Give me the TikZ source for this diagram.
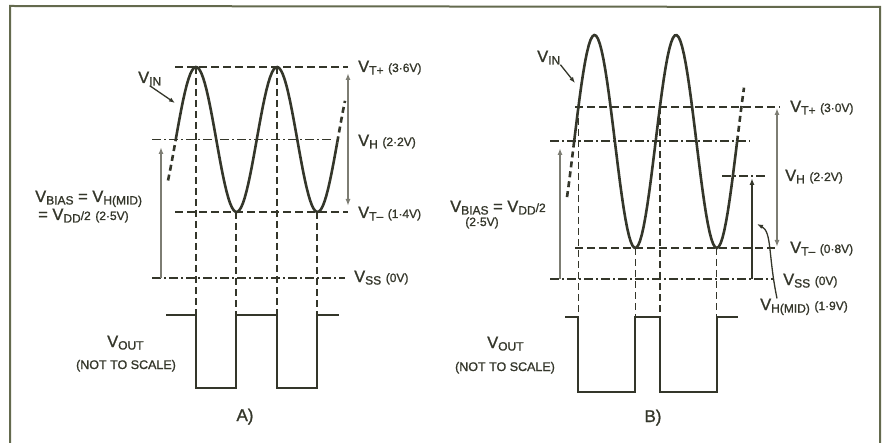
\documentclass[tikz,border=0pt]{standalone}
\usepackage{fontspec}
\setmainfont{Liberation Sans}[FakeBold=1.2]
\usetikzlibrary{arrows.meta}
\definecolor{ink}{RGB}{52,54,42}
\definecolor{frameclr}{RGB}{100,106,78}
\definecolor{dimgray}{RGB}{125,125,115}
% V with a lowered small suffix, and small values
\newcommand{\Vsub}[1]{V\raisebox{-2.5pt}{\fontsize{12}{12}\selectfont #1}}
\newcommand{\vals}[1]{{\fontsize{12}{12}\selectfont #1}}

\begin{document}
\begin{tikzpicture}[x=1pt, y=-1pt,
    wave/.style={draw=ink, line width=2.6pt},
    tail/.style={draw=ink, line width=2.6pt, dash pattern=on 6pt off 4pt},
    sq/.style={draw=ink, line width=2pt},
    level/.style={draw=ink, line width=1.6pt, dash pattern=on 8pt off 4pt},
    midlvl/.style={draw=ink, line width=1.4pt, dash pattern=on 9pt off 3pt on 2pt off 3pt},
    drop/.style={draw=ink, line width=1.4pt, dash pattern=on 7pt off 4pt},
    dimarrow/.style={draw=dimgray, line width=1.4pt, -{Latex[length=7pt,width=5pt]}},
    dimboth/.style={draw=dimgray, line width=1.4pt, {Latex[length=7pt,width=5pt]}-{Latex[length=7pt,width=5pt]}},
    ptr/.style={draw=ink, line width=1.3pt, -{Latex[length=6pt,width=4.5pt]}},
    lbl/.style={inner sep=0pt, text=ink, font=\fontsize{16.5}{18}\selectfont, anchor=base west},
    note/.style={inner sep=0pt, text=ink, font=\fontsize{12.5}{14}\selectfont, anchor=base},
    panelcap/.style={inner sep=0pt, text=ink, font=\fontsize{17}{18}\selectfont, anchor=base}]
    \useasboundingbox (0,0) rectangle (882,443);
    \draw[frameclr, line width=2pt] (10,443) -- (10,6) -- (880,7) -- (880,443);

    % A) levels and crossings
    \draw[level] (175,67) -- (348,67);
    \draw[level] (175,212) -- (348,212);
    \draw[midlvl] (152,139.5) -- (333,139.5);
    \draw[midlvl] (152,278) -- (345,278);
    \foreach \xp/\yt in {196/67, 236/212, 277/67, 317/212}
        \draw[drop] (\xp,\yt) -- (\xp,315);
    \draw[wave] plot[domain=175.75:337.25, samples=90] (\x,{139.5-72.5*cos((\x-196)/81*360)});
    \draw[tail] plot[domain=168:175.75, samples=10] (\x,{139.5-72.5*cos((\x-196)/81*360)});
    \draw[tail] plot[domain=337.25:345, samples=10] (\x,{139.5-72.5*cos((\x-196)/81*360)});
    \draw[sq] (166,315) -| (196,388) -| (236,315) -| (277,388) -| (317,315) -- (339,315);
    \draw[dimboth] (348,73) -- (348,206);
    \draw[dimarrow] (161,278) -- (161,147);

    \node[lbl] (vinA) at (138,83) {\Vsub{IN}};
    \coordinate (vinAtip) at (175,103);
    \draw[ptr] (vinA.south) -- (vinAtip);
    \node[lbl] (vtpA) at (358,72) {\Vsub{T+} \vals{(3·6V)}};
    \node[lbl] (vhA) at (358,146) {\Vsub{H} \vals{(2·2V)}};
    \node[lbl] (vtmA) at (358,218) {\Vsub{T–} \vals{(1·4V)}};
    \node[lbl] (vssA) at (354,282) {\Vsub{SS} \vals{(0V)}};
    \node[lbl] (biasA) at (35,202) {\Vsub{BIAS} = \Vsub{H(MID)}};
    \node[lbl] (vddA) at (38,220) {= \Vsub{DD}\vals{/2} \vals{(2·5V)}};
    \node[lbl] (voutA) at (107,347) {\Vsub{OUT}};
    \node[note] (nsA) at (126,369) {(NOT TO SCALE)};
    \node[panelcap] (capA) at (245,421) {A)};

    % B) levels and crossings
    \draw[level] (575,107) -- (780,107);
    \draw[level] (575,248) -- (778,248);
    \draw[midlvl] (550,141) -- (750,141);
    \draw[midlvl] (722,176) -- (765,176);
    \draw[midlvl] (550,279) -- (773,279);
    \foreach \xp/\yt in {578.4/107, 635.25/248, 659.9/107, 716.75/248}
        \draw[drop] (\xp,\yt) -- (\xp,317);
    \draw[wave] plot[domain=574.1:737.1, samples=90] (\x,{141.5-106.5*cos((\x-594.5)/81.5*360)});
    \draw[tail] plot[domain=567:574.1, samples=10] (\x,{141.5-106.5*cos((\x-594.5)/81.5*360)});
    \draw[tail] plot[domain=737.1:744, samples=10] (\x,{141.5-106.5*cos((\x-594.5)/81.5*360)});
    \draw[sq] (565,317) -| (578.4,392) -| (635.25,317) -| (659.9,392) -| (716.75,317) -- (738,317);
    \draw[dimarrow] (560,279) -- (560,148);
    \draw[dimboth] (777,108) -- (777,247);
    \draw[dimarrow, draw=ink] (752,279) -- (752,178);

    \node[lbl] (vinB) at (537,62) {\Vsub{IN}};
    \coordinate (vinBtip) at (575,83);
    \draw[ptr] (vinB.south east) -- (vinBtip);
    \node[lbl] (vtpB) at (790,112) {\Vsub{T+} \vals{(3·0V)}};
    \node[lbl] (vhB) at (785,181) {\Vsub{H} \vals{(2·2V)}};
    \node[lbl] (vtmB) at (790,253) {\Vsub{T–} \vals{(0·8V)}};
    \node[lbl] (vssB) at (783,285) {\Vsub{SS} \vals{(0V)}};
    \node[lbl] (vhmB) at (760,310) {\Vsub{H(MID)} \vals{(1·9V)}};
    \coordinate (vhmBtip) at (757,224);
    \draw[ptr] ([xshift=17pt]vhmB.north west) .. controls (768,255) and (772,232) .. (vhmBtip);
    \node[lbl] (biasB) at (450,212) {\Vsub{BIAS} = \Vsub{DD}\vals{/2}};
    \node[note] (vddB) at (482,226) {\vals{(2·5V)}};
    \node[lbl] (voutB) at (487,348) {\Vsub{OUT}};
    \node[note] (nsB) at (505,371) {(NOT TO SCALE)};
    \node[panelcap] (capB) at (653,422) {B)};
\end{tikzpicture}
\end{document}
